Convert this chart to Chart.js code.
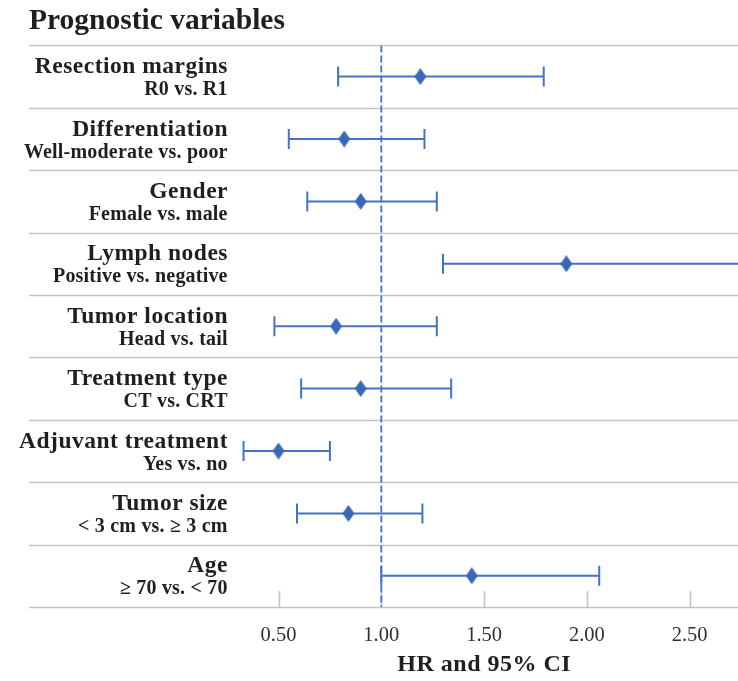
<!DOCTYPE html>
<html>
<head>
<meta charset="utf-8">
<script src="https://cdn.jsdelivr.net/npm/chart.js@4"></script>
<style>
  html, body { margin: 0; padding: 0; background: #fff; }
  #wrap { width: 738px; height: 681px; }
</style>
</head>
<body>
<div id="wrap"><canvas id="chart" width="738" height="681"></canvas></div>
<script>
// Data
const variables = ['Resection margins', 'Differentiation', 'Gender', 'Lymph nodes', 'Tumor location',
  'Treatment type', 'Adjuvant treatment', 'Tumor size', 'Age'];
const comparisons = ['R0 vs. R1', 'Well-moderate vs. poor', 'Female vs. male', 'Positive vs. negative',
  'Head vs. tail', 'CT vs. CRT', 'Yes vs. no', '< 3 cm vs. \u2265 3 cm', '\u2265 70 vs. < 70'];
const hazardRatios = [1.19, 0.82, 0.90, 1.90, 0.78, 0.90, 0.50, 0.84, 1.44];
const ciLower = [0.79, 0.55, 0.64, 1.30, 0.48, 0.61, 0.33, 0.59, 1.00];
const ciUpper = [1.79, 1.21, 1.27, 2.90, 1.27, 1.34, 0.75, 1.20, 2.06];
const xTicks = [0.5, 1.0, 1.5, 2.0, 2.5];
const referenceHR = 1.0;

const BLUE = '#4472c4';
const SERIF = "'Liberation Serif', 'Times New Roman', serif";
const GRAY_LINE = '#c3c3c3';
const TEXT = '#1f1f1f';

Chart.defaults.font.family = SERIF;

// Diamond marker, a bit taller than wide like the original
function makeDiamond(w, h, color) {
  const c = document.createElement('canvas');
  c.width = w;
  c.height = h;
  const g = c.getContext('2d');
  g.fillStyle = color;
  g.beginPath();
  g.moveTo(w / 2, 0);
  g.lineTo(w, h / 2);
  g.lineTo(w / 2, h);
  g.lineTo(0, h / 2);
  g.closePath();
  g.fill();
  return c;
}
const diamond = makeDiamond(12, 17, '#3a68b6');

// Row separators, inner tick marks and two-line labels
const forestDecor = {
  id: 'forestDecor',
  beforeDatasetsDraw(chart) {
    const { ctx, scales: { x, y } } = chart;
    ctx.save();
    ctx.strokeStyle = GRAY_LINE;
    ctx.lineWidth = 1.6;
    for (let i = 0; i <= variables.length; i++) {
      const py = Math.round(y.getPixelForValue(i - 0.5)) + 0.5;
      ctx.beginPath();
      ctx.moveTo(chart.options.layout.padding.left, py);
      ctx.lineTo(chart.width, py);
      ctx.stroke();
    }
    // short tick marks pointing up from the axis
    const bottom = y.getPixelForValue(variables.length - 0.5);
    xTicks.forEach(v => {
      const px = Math.round(x.getPixelForValue(v)) + 0.5;
      ctx.beginPath();
      ctx.moveTo(px, bottom);
      ctx.lineTo(px, bottom - 16);
      ctx.stroke();
    });
    ctx.restore();
  },
  afterDraw(chart) {
    const { ctx, scales: { y } } = chart;
    const right = chart.chartArea.left - 14;
    ctx.save();
    ctx.fillStyle = TEXT;
    ctx.textAlign = 'right';
    ctx.textBaseline = 'alphabetic';
    variables.forEach((name, i) => {
      const cy = y.getPixelForValue(i);
      ctx.font = `bold 23.5px ${SERIF}`;
      ctx.letterSpacing = '0.5px';
      ctx.fillText(name, right + 0.5, cy - 3.5);
      ctx.font = `bold 20px ${SERIF}`;
      ctx.letterSpacing = '0.2px';
      ctx.fillText(comparisons[i], right + 0.2, cy + 18.5);
    });
    // axis title
    ctx.textAlign = 'center';
    ctx.font = `bold 24px ${SERIF}`;
    ctx.letterSpacing = '0.5px';
    ctx.fillText('HR and 95% CI', 484 + 0.25, 671);
    ctx.restore();
  }
};

// One dataset per row for the CI whisker (line + vertical caps)
const ciSets = variables.map((name, i) => ({
  type: 'scatter',
  label: name,
  data: [{ x: ciLower[i], y: i }, { x: ciUpper[i], y: i }],
  showLine: true,
  borderColor: BLUE,
  borderWidth: 2,
  pointStyle: 'line',
  rotation: 90,
  pointRadius: 10,
  pointBorderWidth: 2,
  pointBorderColor: BLUE,
  pointHoverRadius: 10
}));

const ctx = document.getElementById('chart').getContext('2d');
new Chart(ctx, {
  type: 'scatter',
  data: {
    datasets: [
      {
        label: 'HR',
        data: hazardRatios.map((v, i) => ({ x: v, y: i })),
        pointStyle: diamond,
        pointRadius: 8
      },
      ...ciSets,
      {
        label: 'HR = 1',
        data: [{ x: referenceHR, y: -0.5 }, { x: referenceHR, y: variables.length - 0.5 }],
        showLine: true,
        borderColor: BLUE,
        borderWidth: 1.8,
        borderDash: [7, 3],
        pointRadius: 0
      }
    ]
  },
  options: {
    responsive: false,
    animation: false,
    layout: { autoPadding: false, padding: { left: 29, right: 0, top: 0, bottom: 0 } },
    plugins: {
      legend: { display: false },
      tooltip: { enabled: false },
      title: {
        display: true,
        text: 'Prognostic variables',
        align: 'start',
        color: TEXT,
        font: { family: SERIF, size: 29.5, weight: 'bold', lineHeight: 1.2 },
        padding: { top: 4, bottom: 6 }
      }
    },
    scales: {
      x: {
        type: 'linear',
        min: 0.32,
        max: 2.735,
        afterBuildTicks: scale => { scale.ticks = xTicks.map(v => ({ value: v })); },
        afterFit: scale => { scale.height = 74; },
        grid: { display: false },
        border: { display: false },
        ticks: {
          padding: 8,
          color: '#2e2e38',
          font: { family: SERIF, size: 20.5 },
          callback: v => Number(v).toFixed(2)
        }
      },
      y: {
        type: 'linear',
        min: -0.5,
        max: variables.length - 0.5,
        reverse: true,
        afterFit: scale => { scale.width = 212.5; },
        grid: { display: false },
        border: { display: false },
        ticks: { display: false }
      }
    }
  },
  plugins: [forestDecor]
});
</script>
</body>
</html>
